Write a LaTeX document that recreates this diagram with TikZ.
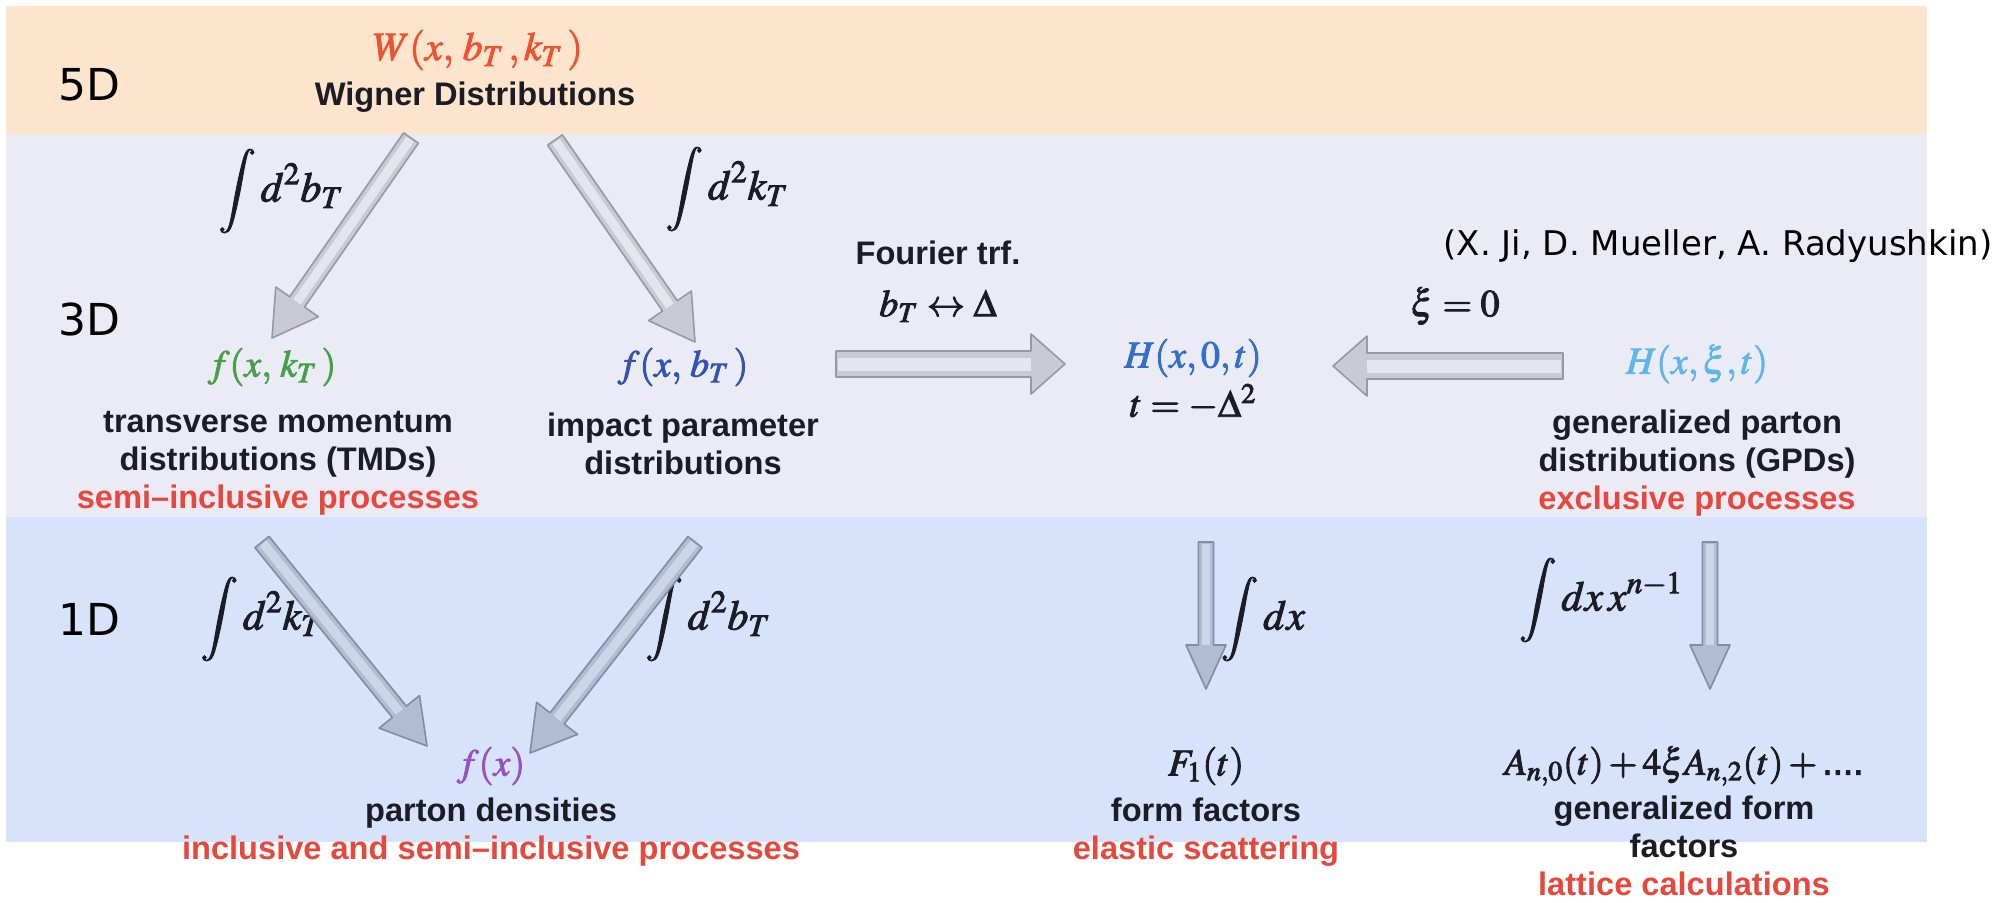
\documentclass[tikz,border=0pt]{standalone}
\usepackage{mathptmx}
\usepackage[no-math]{fontspec}
\setmainfont{Liberation Sans}
\newfontfamily\dvs{DejaVu Sans}
\usetikzlibrary{calc}

\definecolor{bandA}{RGB}{253,228,204}
\definecolor{bandB}{RGB}{235,235,246}
\definecolor{bandC}{RGB}{215,226,251}
\definecolor{txt}{RGB}{28,28,38}
\definecolor{proc}{RGB}{232,72,60}
\definecolor{wred}{RGB}{238,82,48}
\definecolor{fgreen}{RGB}{72,160,72}
\definecolor{fblue}{RGB}{52,82,178}
\definecolor{hblue}{RGB}{52,112,200}
\definecolor{hlight}{RGB}{95,182,232}
\definecolor{fpurple}{RGB}{152,82,190}
\definecolor{arrfillA}{RGB}{200,202,212}
\definecolor{arredgeA}{RGB}{150,153,166}
\definecolor{arrfillB}{RGB}{176,188,210}
\definecolor{arredgeB}{RGB}{128,140,168}
\definecolor{arrhlA}{RGB}{228,230,238}
\definecolor{arrhlB}{RGB}{205,214,232}

% fake bold for the formulas
\newcommand\fbold[1]{\special{pdf:literal direct 2 Tr 0.45 w}#1\special{pdf:literal direct 0 Tr}}

% s, e, shaft half, head half, head length, fill style, highlight colour
\newcommand\fatarr[7]{%
  \coordinate (#1h) at ($(#2)!#5!(#1)$);
  \path[#6] ($(#1)!#3!90:(#2)$) -- ($(#1h)!#3!90:(#2)$) -- ($(#1h)!#4!90:(#2)$) -- (#2)
     -- ($(#1h)!#4!-90:(#2)$) -- ($(#1h)!#3!-90:(#2)$) -- ($(#1)!#3!-90:(#2)$) -- cycle;
  \draw[#7, line width=#3] ($(#1)!0.8pt!(#2)$) -- (#1h);
}

\tikzset{
  lbl/.style={font=\fontsize{16.3}{19}\selectfont\bfseries, text=txt, align=center, inner sep=0pt},
  mth/.style={font=\fontsize{19}{21}\selectfont, text=txt, inner sep=0pt},
  intl/.style={font=\fontsize{21}{23}\selectfont, text=txt, inner sep=0pt},
  dimlbl/.style={font=\dvs\fontsize{22}{26}\selectfont, text=black, inner sep=0pt},
  arrA/.style={fill=arrfillA, draw=arredgeA, line width=0.8pt, line join=round},
  arrB/.style={fill=arrfillB, draw=arredgeB, line width=0.8pt, line join=round},
}

\begin{document}
\begin{tikzpicture}[x=0.5pt,y=-0.5pt]
\useasboundingbox (0,0) rectangle (2001,902);
\fill[white] (0,0) rectangle (2001,902);
\fill[bandA] (6,6) rectangle (1927,134);
\fill[bandB] (6,134) rectangle (1927,517);
\fill[bandC] (6,517) rectangle (1927,842);

% dimension labels
\node[dimlbl] (d5) at (89,85) {5D};
\node[dimlbl] (d3) at (89,319) {3D};
\node[dimlbl] (d1) at (89,619) {1D};

% 5D
\node[mth, font=\fontsize{20}{22}\selectfont, text=wred] (W) at (478,50) {\fbold{$W(x,\,b_T\,,k_T\,)$}};
\node[lbl] (wig) at (475,97) {Wigner Distributions};

% 3D
\node[mth, text=fgreen] (fk) at (272,367) {\fbold{$f(x,\,k_T\,)$}};
\node[lbl] (tmdt) at (278,463) {transverse momentum\\distributions (TMDs)\\\textcolor{proc}{semi–inclusive processes}};
\node[mth, text=fblue] (fb) at (683,367) {\fbold{$f(x,\,b_T\,)$}};
\node[lbl] (ipdt) at (683,444) {impact parameter\\distributions};
\node[lbl] (four) at (938,253) {Fourier trf.};
\node[mth] (bt) at (938,306) {\fbold{$b_T \leftrightarrow \Delta$}};
\node[mth, text=hblue] (H0) at (1193,358) {\fbold{$H(x,0,t)$}};
\node[mth] (tD) at (1193,402) {\fbold{$t=-\Delta^2$}};
\node[mth] (xi) at (1455,306) {\fbold{$\xi=0$}};
\node[mth, text=hlight] (Hxi) at (1697,364) {\fbold{$H(x,\xi,t)$}};
\node[lbl] (gpdt) at (1697,463) {generalized parton\\distributions (GPDs)\\\textcolor{proc}{exclusive processes}};
\node[font=\dvs\fontsize{17}{20}\selectfont, inner sep=0pt] (ji) at (1718,246) {(X. Ji, D. Mueller, A. Radyushkin)};

\node[intl] (lab1) at (281,191) {\fbold{$\displaystyle\int d^2b_T$}};
\node[intl] (lab2) at (727,189) {\fbold{$\displaystyle\int d^2k_T$}};

% 1D
\node[intl] (lab3) at (262,619) {\fbold{$\displaystyle\int d^2k_T$}};
\node[intl] (lab4) at (708,619) {\fbold{$\displaystyle\int d^2b_T$}};
\node[mth, text=fpurple] (fx) at (491,766) {\fbold{$f(x)$}};
\node[lbl] (fxt) at (491,832) {parton densities\\\textcolor{proc}{inclusive and semi–inclusive processes}};
\node[intl] (dx) at (1263,619) {\fbold{$\displaystyle\int dx$}};
\node[mth] (F1) at (1206,766) {\fbold{$F_1(t)$}};
\node[lbl] (fft) at (1206,832) {form factors\\\textcolor{proc}{elastic scattering}};
\node[intl] (dxx) at (1601,600) {\fbold{$\displaystyle\int dx\,x^{n-1}$}};
\node[mth, font=\fontsize{18.5}{21}\selectfont] (An) at (1684,766) {\fbold{$A_{n,0}(t)+4\xi A_{n,2}(t)+{}$....}};
\node[lbl] (gfft) at (1684,846) {generalized form\\factors\\\textcolor{proc}{lattice calculations}};

% arrow end points
\coordinate (a1s) at (411,138); \coordinate (a1e) at (272,338);
\coordinate (a2s) at (555,140); \coordinate (a2e) at (695,342);
\coordinate (a7s) at (836,364); \coordinate (a7e) at (1065,364);
\coordinate (a8s) at (1563,366); \coordinate (a8e) at (1333,366);
\coordinate (a3s) at (262,542); \coordinate (a3e) at (427,746);
\coordinate (a4s) at (695,542); \coordinate (a4e) at (530,753);
\coordinate (a5s) at (1206,542); \coordinate (a5e) at (1206,689);
\coordinate (a6s) at (1710,542); \coordinate (a6e) at (1710,689);

\fatarr{a1s}{a1e}{4.5pt}{13pt}{22pt}{arrA}{arrhlA}
\fatarr{a2s}{a2e}{4.5pt}{13pt}{22pt}{arrA}{arrhlA}
\fatarr{a7s}{a7e}{6.5pt}{15pt}{17pt}{arrA}{arrhlA}
\fatarr{a8s}{a8e}{6.5pt}{15pt}{17pt}{arrA}{arrhlA}
\fatarr{a3s}{a3e}{4.5pt}{13pt}{22pt}{arrB}{arrhlB}
\fatarr{a4s}{a4e}{4.5pt}{13pt}{22pt}{arrB}{arrhlB}
\fatarr{a5s}{a5e}{3.8pt}{10pt}{22pt}{arrB}{arrhlB}
\fatarr{a6s}{a6e}{3.8pt}{10pt}{22pt}{arrB}{arrhlB}
\end{tikzpicture}
\end{document}
